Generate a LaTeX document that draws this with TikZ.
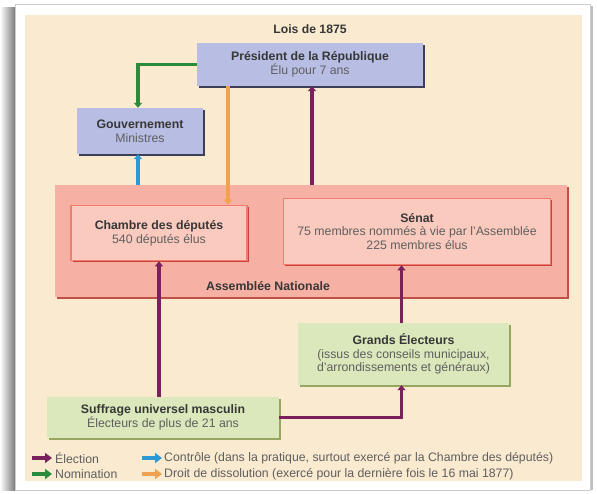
\documentclass[tikz,border=0pt]{standalone}
\usepackage{fontspec}
\setmainfont{Liberation Sans}
\usetikzlibrary{arrows.meta,shadows,calc}
\definecolor{beige}{RGB}{249,234,208}
\definecolor{lav}{RGB}{184,189,228}
\definecolor{lavsh}{RGB}{60,62,90}
\definecolor{asm}{RGB}{246,176,164}
\definecolor{asmsh}{RGB}{190,80,70}
\definecolor{pinkin}{RGB}{250,202,190}
\definecolor{pinkbd}{RGB}{238,125,112}
\definecolor{grn}{RGB}{218,232,188}
\definecolor{grnsh}{RGB}{150,165,95}
\definecolor{purp}{RGB}{122,32,92}
\definecolor{greenarr}{RGB}{40,140,60}
\definecolor{bluearr}{RGB}{44,152,214}
\definecolor{orarr}{RGB}{240,162,80}
\definecolor{txtb}{RGB}{55,55,55}
\definecolor{txtr}{RGB}{95,95,95}
\tikzset{
  every node/.style={font=\fontsize{12.3}{13.6}\selectfont, text=txtr, align=center, inner sep=0pt},
  lavbox/.style={rectangle, fill=lav, drop shadow={shadow xshift=1.6pt, shadow yshift=-1.8pt, fill=lavsh, opacity=1}},
  grnbox/.style={rectangle, fill=grn, drop shadow={shadow xshift=1.6pt, shadow yshift=-1.8pt, fill=grnsh, opacity=1}},
  asmbox/.style={rectangle, fill=asm, drop shadow={shadow xshift=1.5pt, shadow yshift=-2pt, fill=asmsh, opacity=1}},
  pinkbox/.style={rectangle, fill=pinkin, draw=pinkbd, line width=1.6pt, drop shadow={shadow xshift=1.5pt, shadow yshift=-2pt, fill=asmsh!80!red, opacity=1}},
  conn/.style={line width=3.6pt, -{Triangle[length=5pt,width=8pt]}},
  elect/.style={conn, draw=purp},
  legarr/.style={line width=4.5pt, -{Triangle[length=7pt,width=10pt]}},
}
\begin{document}
\begin{tikzpicture}[x=1pt,y=-1pt]
\useasboundingbox (0,0) rectangle (597,494);
\fill[white] (0,0) rectangle (597,494);
% card shadow
\shade[left color=white, right color=black!55] (0,8) rectangle (16,490);
\fill[black!25] (589,6) rectangle (593,490);
\fill[white] (15,4) rectangle (590,490);
\draw[black!20, line width=0.6pt] (15,4) rectangle (590,490);
\fill[beige] (25,15) rectangle (582,481);

% title
\node[text=txtb, font=\fontsize{12.2}{14}\selectfont\bfseries] (title) at (310,29) {Lois de 1875};

% boxes
\node[lavbox, minimum width=226pt, minimum height=43pt] (pres) at (310,64.5)
  {\textcolor{txtb}{\bfseries Président de la République}\\Élu pour 7 ans};
\node[lavbox, minimum width=126pt, minimum height=46pt] (gouv) at (140,131)
  {\textcolor{txtb}{\bfseries Gouvernement}\\Ministres};
\node[asmbox, minimum width=512pt, minimum height=112pt] (asm) at (311,241) {};
\node[text=txtb, font=\fontsize{12.3}{13.6}\selectfont\bfseries] (asmlbl) at (268,286) {Assemblée Nationale};
\node[pinkbox, minimum width=176pt, minimum height=55pt] (cham) at (159,233)
  {\textcolor{txtb}{\bfseries Chambre des députés}\\540 députés élus};
\node[pinkbox, minimum width=267pt, minimum height=66pt] (sen) at (417,231.5)
  {\textcolor{txtb}{\bfseries Sénat}\\75 membres nommés à vie par l'Assemblée\\225 membres élus};
\node[grnbox, minimum width=211pt, minimum height=62pt] (ge) at (403.5,354)
  {\textcolor{txtb}{\bfseries Grands Électeurs}\\(issus des conseils municipaux,\\d'arrondissements et généraux)};
\node[grnbox, minimum width=232pt, minimum height=41pt] (suff) at (163,417.5)
  {\textcolor{txtb}{\bfseries Suffrage universel masculin}\\Électeurs de plus de 21 ans};

% connectors
\coordinate (xg) at (138,0);
\coordinate (xo) at (228,0);
\coordinate (xp) at (312,0);
\coordinate (xc) at (159,0);
\coordinate (xs) at (401.5,0);
\draw[conn, draw=greenarr] (pres.west) -| (xg |- gouv.north);
\draw[conn, draw=bluearr] (xg |- asm.north) -- (xg |- gouv.south);
\draw[conn, draw=orarr] (xo |- pres.south) -- (xo |- cham.north);
\draw[elect] (xp |- asm.north) -- (xp |- pres.south);
\draw[elect] (xc |- suff.north) -- (xc |- cham.south);
\draw[elect] (suff.east) -| (xs |- ge.south);
\draw[elect] (xs |- ge.north) -- (xs |- sen.south);

% legend
\coordinate (l1a) at (32,458); \coordinate (l1b) at (52,458);
\coordinate (l2a) at (32,474); \coordinate (l2b) at (52,474);
\coordinate (l3a) at (142,458); \coordinate (l3b) at (162,458);
\coordinate (l4a) at (142,474); \coordinate (l4b) at (162,474);
\draw[legarr, draw=purp] (l1a) -- (l1b);
\draw[legarr, draw=greenarr] (l2a) -- (l2b);
\draw[legarr, draw=bluearr] (l3a) -- (l3b);
\draw[legarr, draw=orarr] (l4a) -- (l4b);
\node[anchor=west] (t1) at (55,458) {Élection};
\node[anchor=west] (t2) at (55,474) {Nomination};
\node[anchor=west] (t3) at (164,458) {Contrôle (dans la pratique, surtout exercé par la Chambre des députés)};
\node[anchor=west] (t4) at (164,474) {Droit de dissolution (exercé pour la dernière fois le 16 mai 1877)};
\end{tikzpicture}
\end{document}
